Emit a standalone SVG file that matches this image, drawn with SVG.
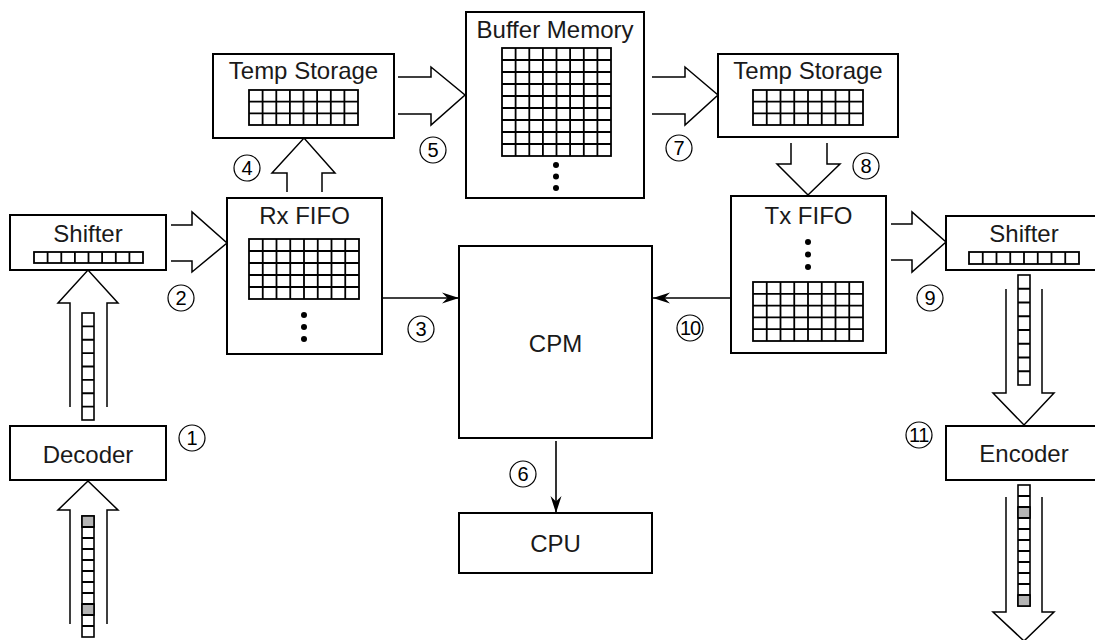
<svg xmlns="http://www.w3.org/2000/svg" width="1095" height="640" viewBox="0 0 1095 640">
<style>
.box{fill:#fff;stroke:#000;stroke-width:2}
.lbl{font-family:"Liberation Sans",Arial,sans-serif;font-size:24px;fill:#1a1a1a;text-anchor:middle}
.grid{fill:none;stroke:#000;stroke-width:1.8}
.cell{fill:#fff;stroke:#000;stroke-width:1.6}
.gray{fill:#b4b4b4;stroke:#000;stroke-width:1.6}
.barrow{fill:none;stroke:#000;stroke-width:1.5;stroke-linejoin:miter}
.conn{fill:none;stroke:#000;stroke-width:1.6}
.num circle{fill:none;stroke:#000;stroke-width:1.2}
.num text{font-family:"Liberation Sans",Arial,sans-serif;font-size:20px;fill:#000;text-anchor:middle}
.dot{fill:#000}
</style>
<defs>
<marker id="arr" viewBox="-18 -7 19 14" refX="0" refY="0" markerWidth="19" markerHeight="14" markerUnits="userSpaceOnUse" orient="auto">
<path d="M0,0 L-17,-5.5 L-11.5,0 L-17,5.5 Z" fill="#000"/>
</marker>
</defs>
<rect width="1095" height="640" fill="#fff"/>

<g id="connectors">
<polyline class="barrow" points="171,225 192,225 192,212 227,243 192,272 192,261 171,261"/>
<polyline class="barrow" points="70,407 70,303 58,303 88,270 118,303 107,303 107,407"/>
<polyline class="barrow" points="70,624 70,510 58,510 88,481 118,510 107,510 107,624"/>
<polyline class="barrow" points="287,192 287,173 272,173 304,138 335,173 322,173 322,192"/>
<polyline class="barrow" points="398,77 431,77 431,67 465,95 431,125 431,114 398,114"/>
<polyline class="barrow" points="652,77 685,77 685,67 718,95 685,125 685,114 652,114"/>
<polyline class="barrow" points="791,143 791,164 777,164 808,195 840,164 827,164 827,143"/>
<polyline class="barrow" points="891,224 912,224 912,212 946,242 912,272 912,260 891,260"/>
<polyline class="barrow" points="1006,289 1006,393 993,393 1024,425 1054,393 1042,393 1042,289"/>
<polyline class="barrow" points="1006,497 1006,612 993,612 1024,641 1054,612 1042,612 1042,497"/>
<line class="conn" x1="382" y1="298" x2="459" y2="298" marker-end="url(#arr)"/>
<line class="conn" x1="731" y1="298" x2="653" y2="298" marker-end="url(#arr)"/>
<line class="conn" x1="556" y1="441" x2="556" y2="513" marker-end="url(#arr)"/>
<g id="col-left-upper">
<rect class="cell" x="82" y="313" width="12" height="107"/>
<path class="grid" d="M82,326.4H94M82,339.75H94M82,353.1H94M82,366.5H94M82,379.9H94M82,393.25H94M82,406.6H94"/>
</g>
<g id="col-left-lower">
<rect class="cell" x="82" y="516" width="12" height="121"/>
<rect class="gray" x="82" y="516" width="12" height="11"/>
<rect class="gray" x="82" y="604" width="12" height="11"/>
<path class="grid" d="M82,527H94M82,538H94M82,549H94M82,560H94M82,571H94M82,582H94M82,593H94M82,604H94M82,615H94M82,626H94"/>
</g>
<g id="col-right-upper">
<rect class="cell" x="1018" y="275" width="12" height="110"/>
<path class="grid" d="M1018,288.75H1030M1018,302.5H1030M1018,316.25H1030M1018,330H1030M1018,343.75H1030M1018,357.5H1030M1018,371.25H1030"/>
</g>
<g id="col-right-lower">
<rect class="cell" x="1018" y="485" width="12" height="121"/>
<rect class="gray" x="1018" y="507" width="12" height="11"/>
<rect class="gray" x="1018" y="595" width="12" height="11"/>
<path class="grid" d="M1018,496H1030M1018,507H1030M1018,518H1030M1018,529H1030M1018,540H1030M1018,551H1030M1018,562H1030M1018,573H1030M1018,584H1030M1018,595H1030"/>
</g>
</g>

<g id="shifter-left">
<rect class="box" x="10" y="215" width="156" height="55"/>
<text class="lbl" x="88" y="242">Shifter</text>
<rect class="grid" x="34" y="252" width="109" height="11"/>
<path class="grid" d="M47.6,252V263M61.3,252V263M74.9,252V263M88.5,252V263M102.1,252V263M115.8,252V263M129.4,252V263"/>
</g>

<g id="decoder">
<rect class="box" x="10" y="426" width="156" height="54"/>
<text class="lbl" x="88" y="463">Decoder</text>
</g>

<g id="temp-storage-left">
<rect class="box" x="213" y="54" width="181" height="84"/>
<text class="lbl" x="303.5" y="79">Temp Storage</text>
<rect class="grid" x="249" y="90" width="109" height="35"/>
<path class="grid" d="M262.6,90V125M276.3,90V125M289.9,90V125M303.5,90V125M317.1,90V125M330.8,90V125M344.4,90V125M249,101.7H358M249,113.3H358"/>
</g>

<g id="buffer-memory">
<rect class="box" x="466" y="12" width="178" height="186"/>
<text class="lbl" x="555" y="38">Buffer Memory</text>
<rect class="grid" x="502" y="48" width="109" height="108"/>
<path class="grid" d="M515.6,48V156M529.3,48V156M542.9,48V156M556.5,48V156M570.1,48V156M583.8,48V156M597.4,48V156M502,60H611M502,72H611M502,84H611M502,96H611M502,108H611M502,120H611M502,132H611M502,144H611"/>
<circle class="dot" cx="556" cy="165" r="3"/>
<circle class="dot" cx="556" cy="176.5" r="3"/>
<circle class="dot" cx="556" cy="188" r="3"/>
</g>

<g id="temp-storage-right">
<rect class="box" x="718" y="54" width="180" height="83"/>
<text class="lbl" x="808" y="79">Temp Storage</text>
<rect class="grid" x="753" y="90" width="110" height="35"/>
<path class="grid" d="M766.75,90V125M780.5,90V125M794.25,90V125M808,90V125M821.75,90V125M835.5,90V125M849.25,90V125M753,101.7H863M753,113.3H863"/>
</g>

<g id="rx-fifo">
<rect class="box" x="227" y="198" width="155" height="156"/>
<text class="lbl" x="304.5" y="224">Rx FIFO</text>
<rect class="grid" x="249" y="239" width="110" height="60"/>
<path class="grid" d="M262.75,239V299M276.5,239V299M290.25,239V299M304,239V299M317.75,239V299M331.5,239V299M345.25,239V299M249,251H359M249,263H359M249,275H359M249,287H359"/>
<circle class="dot" cx="304" cy="315" r="3"/>
<circle class="dot" cx="304" cy="327" r="3"/>
<circle class="dot" cx="304" cy="339" r="3"/>
</g>

<g id="tx-fifo">
<rect class="box" x="731" y="196" width="155" height="157"/>
<text class="lbl" x="808.5" y="224">Tx FIFO</text>
<circle class="dot" cx="808" cy="242" r="3"/>
<circle class="dot" cx="808" cy="254.5" r="3"/>
<circle class="dot" cx="808" cy="267" r="3"/>
<rect class="grid" x="753" y="282" width="110" height="59"/>
<path class="grid" d="M766.75,282V341M780.5,282V341M794.25,282V341M808,282V341M821.75,282V341M835.5,282V341M849.25,282V341M753,293.8H863M753,305.6H863M753,317.4H863M753,329.2H863"/>
</g>

<g id="cpm">
<rect class="box" x="459" y="246" width="193" height="192"/>
<text class="lbl" x="555.5" y="352">CPM</text>
</g>

<g id="cpu">
<rect class="box" x="459" y="513" width="193" height="60"/>
<text class="lbl" x="555.5" y="552">CPU</text>
</g>

<g id="shifter-right">
<rect class="box" x="946" y="216" width="160" height="54"/>
<text class="lbl" x="1024" y="242">Shifter</text>
<rect class="grid" x="969" y="252" width="110" height="12"/>
<path class="grid" d="M982.75,252V264M996.5,252V264M1010.25,252V264M1024,252V264M1037.75,252V264M1051.5,252V264M1065.25,252V264"/>
</g>

<g id="encoder">
<rect class="box" x="946" y="426" width="160" height="54"/>
<text class="lbl" x="1024" y="462">Encoder</text>
</g>

<g id="step-numbers" class="num">
<circle cx="192" cy="438" r="13"/><text x="192" y="445">1</text>
<circle cx="181" cy="298" r="13"/><text x="181" y="305">2</text>
<circle cx="421" cy="329" r="13"/><text x="421" y="336">3</text>
<circle cx="247" cy="168" r="13"/><text x="247" y="175">4</text>
<circle cx="433" cy="150" r="13"/><text x="433" y="157">5</text>
<circle cx="523" cy="474" r="13"/><text x="523" y="481">6</text>
<circle cx="679" cy="148" r="13"/><text x="679" y="155">7</text>
<circle cx="866" cy="166" r="13"/><text x="866" y="173">8</text>
<circle cx="930" cy="298" r="13"/><text x="930" y="305">9</text>
<circle cx="690" cy="328" r="13"/><text x="690" y="335" letter-spacing="-1">10</text>
<circle cx="919" cy="435" r="13"/><text x="919" y="442" letter-spacing="-0.5">11</text>
</g>
</svg>
